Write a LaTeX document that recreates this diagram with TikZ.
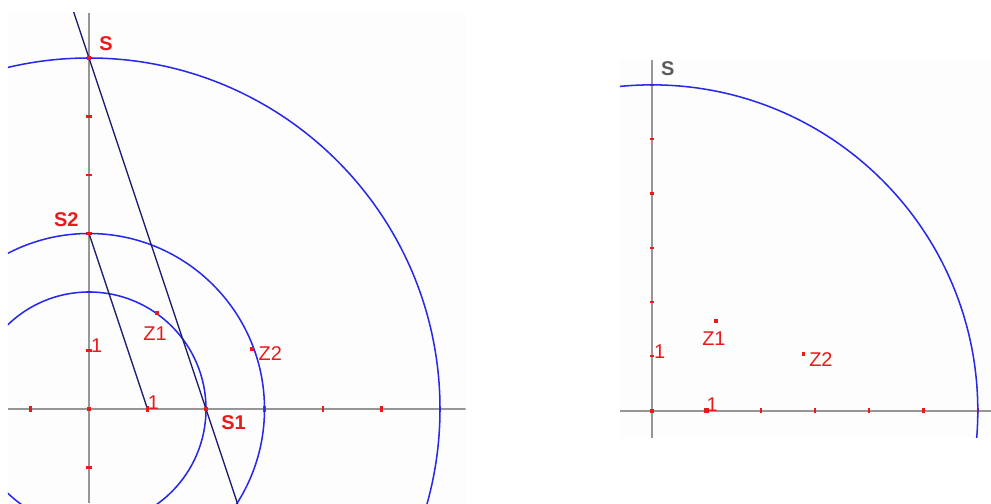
\documentclass[tikz,border=0pt]{standalone}
\usepackage{fontspec}
\setmainfont{Liberation Sans}
\definecolor{gbred}{RGB}{235,25,25}
\definecolor{gbblue}{RGB}{40,40,235}
\definecolor{gbnavy}{RGB}{30,30,110}
\definecolor{gbaxis}{RGB}{150,150,150}
\definecolor{gbpanel}{RGB}{253,253,253}
\definecolor{gbdark}{RGB}{90,90,90}
\usetikzlibrary{positioning,calc}

\begin{document}
\begin{tikzpicture}[
    axis/.style={gbaxis, line width=1.5pt},
    tick/.style={gbred, line width=1.8pt},
    circ/.style={gbblue, line width=1.3pt},
    construct/.style={gbnavy, line width=1.2pt},
    dot/.style={rectangle, fill=gbred, inner sep=0pt, minimum size=3.4pt},
    bigdot/.style={dot, minimum size=4.4pt},
    lbl/.style={gbred, font=\fontsize{17}{17}\selectfont, inner sep=0pt},
    bold/.style={lbl, font=\fontsize{17}{17}\selectfont\bfseries}
  ]
    \useasboundingbox (0,0) rectangle (29.73,15.09);
    % Left panel: construction
    \begin{scope}[shift={(2.67,2.82)}, x=1.755cm, y=1.755cm]
      \fill[gbpanel] (-1.385,-1.607) rectangle (6.44,6.77);
      \clip (-1.385,-1.607) rectangle (6.44,6.77);
      \draw[axis] (-1.385,0) -- (6.44,0);
      \draw[axis] (0,-1.607) -- (0,6.77);
      \foreach \k in {-1,1,2,3,4,5,6} {
        \draw[tick] (\k,-0.045) -- (\k,0.045);
        \draw[tick] (-0.045,\k) -- (0.045,\k);
      }
      % Circles
      \draw[circ] (0,0) circle (2);
      \draw[circ] (0,0) circle (3);
      \draw[circ] (0,0) circle (6);
      % Points
      \coordinate (O) at (0,0);
      \coordinate (S) at (0,6);
      \coordinate (S2) at (0,3);
      \coordinate (E) at (1,0);
      \coordinate (S1) at (2,0);
      \coordinate (Z1) at (1.17,1.64);
      \coordinate (Z2) at (2.78,1.02);
      % Parallel lines
      \draw[construct, shorten <=-2cm, shorten >=-4cm] (S) -- (S1);
      \draw[construct] (S2) -- (E);
      \foreach \p in {O,S,S2,E,S1,Z1,Z2}
        \node[dot] at (\p) {};
      % Labels
      \node[bold] (lblS) at (0.29,6.25) {S};
      \node[bold] (lblS2) at (-0.39,3.24) {S2};
      \node[bold] (lblS1) at (2.47,-0.23) {S1};
      \node[lbl] (lblE) at (1.10,0.11) {1};
      \node[lbl] (lblY) at (0.13,1.09) {1};
      \node[lbl] (lblZ1) at (1.13,1.29) {Z1};
      \node[lbl] (lblZ2) at (3.10,0.95) {Z2};
    \end{scope}
    % Right panel: result
    \begin{scope}[shift={(19.56,2.77)}, x=1.629cm, y=1.629cm]
      \fill[gbpanel] (-0.59,-0.50) rectangle (6.24,6.46);
      \clip (-0.59,-0.50) rectangle (6.24,6.46);
      \draw[axis] (-0.59,0) -- (6.24,0);
      \draw[axis] (0,-0.50) -- (0,6.46);
      \foreach \k in {1,...,6} {
        \draw[tick] (\k,-0.045) -- (\k,0.045);
        \draw[tick] (-0.045,\k) -- (0.045,\k);
      }
      \draw[circ] (0,0) circle (6);
      \coordinate (rO) at (0,0);
      \coordinate (rE) at (1,0);
      \coordinate (rZ1) at (1.17,1.65);
      \coordinate (rZ2) at (2.79,1.04);
      \node[dot] at (rO) {};
      \node[bigdot] at (rE) {};
      \node[dot] at (rZ1) {};
      \node[dot] at (rZ2) {};
      \node[bold, gbdark] (rlblS) at (0.29,6.29) {S};
      \node[lbl] (rlblE) at (1.11,0.12) {1};
      \node[lbl] (rlblY) at (0.14,1.09) {1};
      \node[lbl] (rlblZ1) at (1.14,1.32) {Z1};
      \node[lbl] (rlblZ2) at (3.11,0.95) {Z2};
    \end{scope}
  \end{tikzpicture}
\end{document}
